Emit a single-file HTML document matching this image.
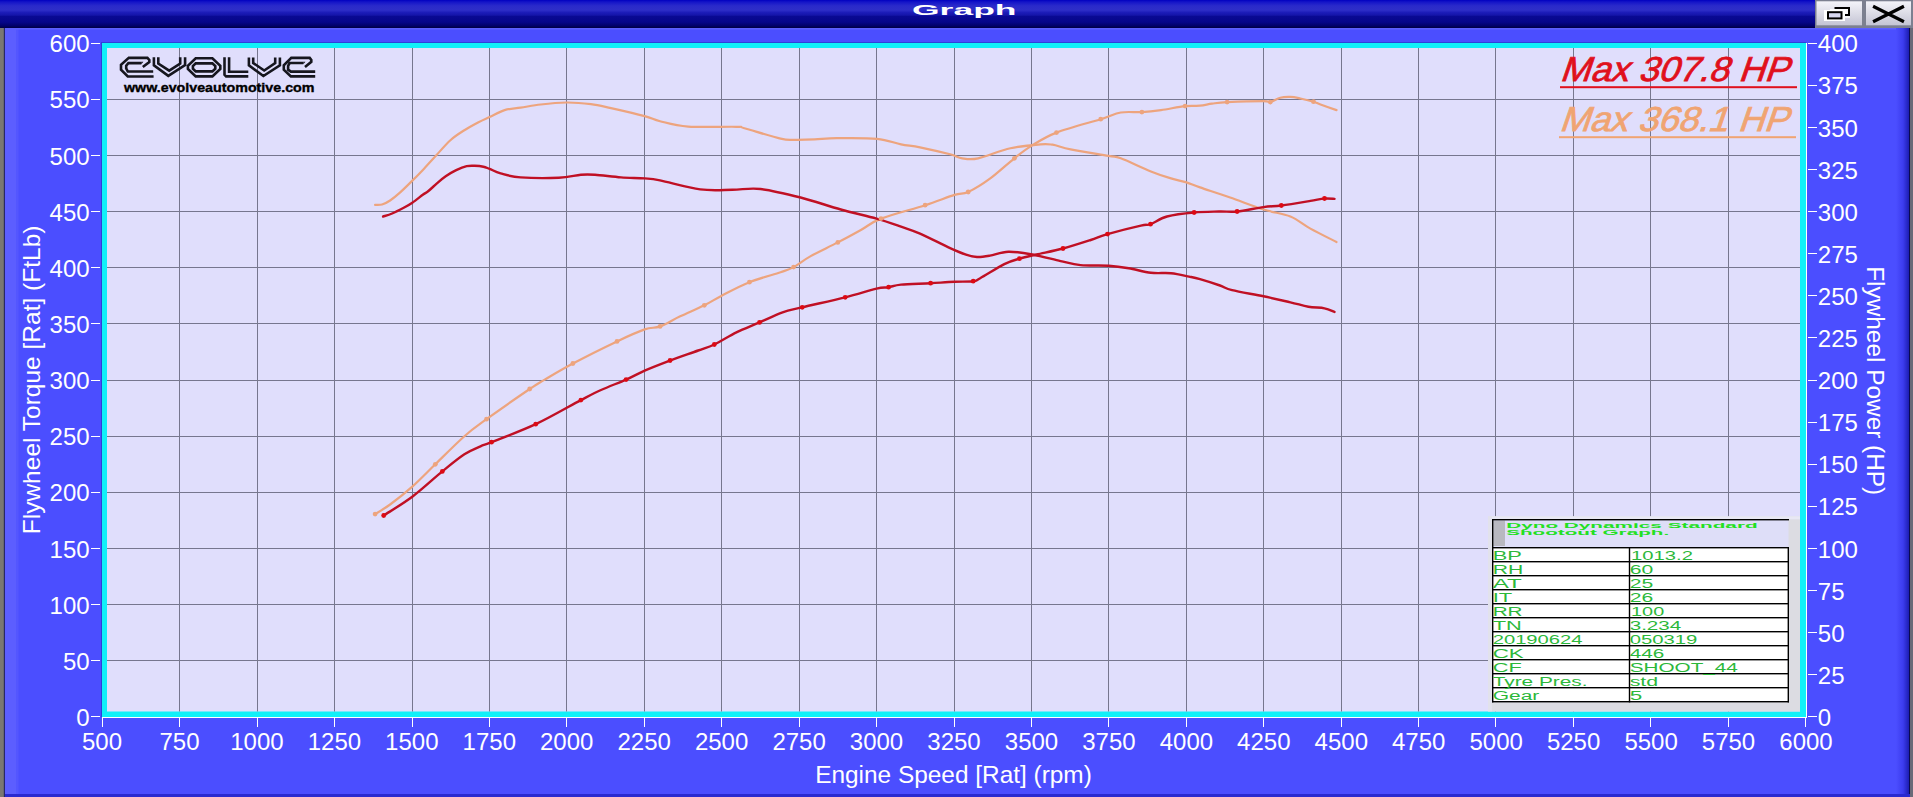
<!DOCTYPE html><html><head><meta charset="utf-8"><title>Graph</title><style>
html,body{margin:0;padding:0;width:1913px;height:797px;overflow:hidden;background:#4b4eff}
svg{display:block;font-family:"Liberation Sans",sans-serif}
</style></head><body>
<svg width="1913" height="797" viewBox="0 0 1913 797">
<defs>
<linearGradient id="tb" x1="0" y1="0" x2="0" y2="1"><stop offset="0" stop-color="#0000c0"/><stop offset="0.07" stop-color="#1414c8"/><stop offset="0.21" stop-color="#2a2aca"/><stop offset="0.36" stop-color="#2e2ec8"/><stop offset="0.45" stop-color="#1c1cb8"/><stop offset="0.55" stop-color="#1414a8"/><stop offset="0.565" stop-color="#0a0a94"/><stop offset="0.79" stop-color="#06068a"/><stop offset="0.93" stop-color="#000068"/><stop offset="1" stop-color="#000040"/></linearGradient>
<linearGradient id="btn" x1="0" y1="0" x2="0" y2="1"><stop offset="0" stop-color="#f4f4fa"/><stop offset="0.5" stop-color="#dcdce6"/><stop offset="1" stop-color="#c4c4d4"/></linearGradient>
<linearGradient id="rg" x1="0" y1="0" x2="1" y2="0"><stop offset="0" stop-color="#4b4eff"/><stop offset="0.5" stop-color="#3c3cee"/><stop offset="1" stop-color="#1818a8"/></linearGradient>
</defs>
<rect x="0" y="0" width="1913" height="797" fill="#4b4eff"/>
<rect x="0" y="28" width="4" height="769" fill="#7a7872"/>
<rect x="3.8" y="28" width="1.5" height="769" fill="#282866"/>
<rect x="5" y="28" width="11.5" height="769" fill="#5c5eff"/><rect x="16.5" y="28" width="2" height="769" fill="#5456ff"/>
<rect x="1896" y="28" width="14" height="769" fill="url(#rg)"/>
<rect x="1909" y="28" width="1.2" height="769" fill="#0a0a50"/>
<rect x="1910" y="28" width="3" height="769" fill="#6a6a78"/>
<rect x="5" y="794" width="1905" height="3" fill="#2a2ad0"/>
<rect x="0" y="0" width="1913" height="28" fill="url(#tb)"/>
<rect x="5" y="28" width="1891" height="1.5" fill="#5e60ff"/>
<text x="912" y="15" font-size="14" font-weight="bold" fill="#fff" textLength="104.5" lengthAdjust="spacingAndGlyphs">Graph</text>
<rect x="1815" y="0" width="98" height="28" fill="#7c8090"/>
<rect x="1816.5" y="1.3" width="45.5" height="24" fill="url(#btn)"/>
<rect x="1866" y="1.3" width="45" height="24" fill="url(#btn)"/>
<rect x="1830" y="9" width="20" height="9" fill="#ffffff" opacity="0.8"/>
<rect x="1834.5" y="7" width="15.5" height="2" fill="#000"/>
<rect x="1848" y="7" width="2" height="9" fill="#000"/>
<rect x="1845" y="14" width="5" height="2" fill="#000"/>
<rect x="1824" y="10" width="21" height="11" fill="#fff"/>
<rect x="1828" y="12.2" width="13.5" height="6.2" fill="#d8d8f0" stroke="#000" stroke-width="2"/>
<path d="M1874.5,7 L1902.5,21 M1902.5,7 L1874.5,21" stroke="#000" stroke-width="3.2" stroke-linecap="square"/>
<rect x="102" y="43" width="1704" height="674" fill="#10f0f8"/>
<rect x="107" y="48" width="1693" height="663.5" fill="#e0defc"/>
<path d="M179.5,48V711.5 M257.5,48V711.5 M334.5,48V711.5 M412.5,48V711.5 M489.5,48V711.5 M566.5,48V711.5 M644.5,48V711.5 M721.5,48V711.5 M799.5,48V711.5 M876.5,48V711.5 M954.5,48V711.5 M1031.5,48V711.5 M1108.5,48V711.5 M1186.5,48V711.5 M1263.5,48V711.5 M1341.5,48V711.5 M1418.5,48V711.5 M1495.5,48V711.5 M1573.5,48V711.5 M1650.5,48V711.5 M1728.5,48V711.5 M107,660.5H1800 M107,604.5H1800 M107,548.5H1800 M107,492.5H1800 M107,436.5H1800 M107,380.5H1800 M107,323.5H1800 M107,267.5H1800 M107,211.5H1800 M107,155.5H1800 M107,99.5H1800" stroke="#76768e" stroke-width="1" fill="none"/>
<rect x="101" y="42" width="1705" height="1" fill="#3040d8"/>
<rect x="101" y="42" width="1" height="675" fill="#3040d8"/>
<rect x="102" y="717" width="1705" height="1" fill="#fff"/>
<rect x="1806" y="43" width="1" height="675" fill="#fff"/>
<path d="M91,716.5H100 M91,660.5H100 M91,604.5H100 M91,548.5H100 M91,492.5H100 M91,436.5H100 M91,380.5H100 M91,323.5H100 M91,267.5H100 M91,211.5H100 M91,155.5H100 M91,99.5H100 M91,43.5H100 M102.5,718V727 M179.5,718V727 M257.5,718V727 M334.5,718V727 M412.5,718V727 M489.5,718V727 M566.5,718V727 M644.5,718V727 M721.5,718V727 M799.5,718V727 M876.5,718V727 M954.5,718V727 M1031.5,718V727 M1108.5,718V727 M1186.5,718V727 M1263.5,718V727 M1341.5,718V727 M1418.5,718V727 M1495.5,718V727 M1573.5,718V727 M1650.5,718V727 M1728.5,718V727 M1805.5,718V727 M1808,716.5H1817 M1808,674.5H1817 M1808,632.5H1817 M1808,590.5H1817 M1808,548.5H1817 M1808,506.5H1817 M1808,464.5H1817 M1808,422.5H1817 M1808,380.5H1817 M1808,337.5H1817 M1808,295.5H1817 M1808,253.5H1817 M1808,211.5H1817 M1808,169.5H1817 M1808,127.5H1817 M1808,85.5H1817 M1808,43.5H1817" stroke="#fff" stroke-width="1" fill="none"/>
<g font-size="24" fill="#fff"><text x="89.6" y="725.9" text-anchor="end">0</text><text x="89.6" y="669.8" text-anchor="end">50</text><text x="89.6" y="613.6" text-anchor="end">100</text><text x="89.6" y="557.5" text-anchor="end">150</text><text x="89.6" y="501.4" text-anchor="end">200</text><text x="89.6" y="445.2" text-anchor="end">250</text><text x="89.6" y="389.1" text-anchor="end">300</text><text x="89.6" y="333.0" text-anchor="end">350</text><text x="89.6" y="276.8" text-anchor="end">400</text><text x="89.6" y="220.7" text-anchor="end">450</text><text x="89.6" y="164.6" text-anchor="end">500</text><text x="89.6" y="108.4" text-anchor="end">550</text><text x="89.6" y="52.3" text-anchor="end">600</text><text x="102.0" y="750.1" text-anchor="middle">500</text><text x="179.5" y="750.1" text-anchor="middle">750</text><text x="256.9" y="750.1" text-anchor="middle">1000</text><text x="334.4" y="750.1" text-anchor="middle">1250</text><text x="411.8" y="750.1" text-anchor="middle">1500</text><text x="489.3" y="750.1" text-anchor="middle">1750</text><text x="566.7" y="750.1" text-anchor="middle">2000</text><text x="644.2" y="750.1" text-anchor="middle">2250</text><text x="721.6" y="750.1" text-anchor="middle">2500</text><text x="799.1" y="750.1" text-anchor="middle">2750</text><text x="876.5" y="750.1" text-anchor="middle">3000</text><text x="954.0" y="750.1" text-anchor="middle">3250</text><text x="1031.5" y="750.1" text-anchor="middle">3500</text><text x="1108.9" y="750.1" text-anchor="middle">3750</text><text x="1186.4" y="750.1" text-anchor="middle">4000</text><text x="1263.8" y="750.1" text-anchor="middle">4250</text><text x="1341.3" y="750.1" text-anchor="middle">4500</text><text x="1418.7" y="750.1" text-anchor="middle">4750</text><text x="1496.2" y="750.1" text-anchor="middle">5000</text><text x="1573.6" y="750.1" text-anchor="middle">5250</text><text x="1651.1" y="750.1" text-anchor="middle">5500</text><text x="1728.5" y="750.1" text-anchor="middle">5750</text><text x="1806.0" y="750.1" text-anchor="middle">6000</text><text x="1817.8" y="725.9">0</text><text x="1817.8" y="683.8">25</text><text x="1817.8" y="641.7">50</text><text x="1817.8" y="599.6">75</text><text x="1817.8" y="557.5">100</text><text x="1817.8" y="515.4">125</text><text x="1817.8" y="473.3">150</text><text x="1817.8" y="431.2">175</text><text x="1817.8" y="389.1">200</text><text x="1817.8" y="347.0">225</text><text x="1817.8" y="304.9">250</text><text x="1817.8" y="262.8">275</text><text x="1817.8" y="220.7">300</text><text x="1817.8" y="178.6">325</text><text x="1817.8" y="136.5">350</text><text x="1817.8" y="94.4">375</text><text x="1817.8" y="52.3">400</text></g>
<text x="953.5" y="783.2" font-size="24.4" fill="#fff" text-anchor="middle">Engine Speed [Rat] (rpm)</text>
<text transform="translate(40.1,379.9) rotate(-90)" font-size="24.5" fill="#fff" text-anchor="middle">Flywheel Torque [Rat] (FtLb)</text>
<text transform="translate(1867,380.7) rotate(90)" font-size="24.4" fill="#fff" text-anchor="middle">Flywheel Power (HP)</text>
<g fill="none" stroke-width="2.2" stroke-linejoin="round" stroke-linecap="round">
<path d="M375.1,204.9 C376.3,204.8 379.6,205.2 382.1,204.5 C384.6,203.8 387.1,202.5 390.1,200.5 C393.1,198.5 396.4,195.8 400.2,192.4 C403.9,189.1 408.6,184.4 412.6,180.4 C416.6,176.4 420.4,172.6 424.3,168.4 C428.2,164.2 432.0,160.0 436.3,155.3 C440.6,150.6 445.7,144.4 450.4,140.2 C455.1,136.0 459.7,133.2 464.4,130.2 C469.1,127.2 474.3,124.4 478.5,122.2 C482.7,120.0 485.1,119.1 489.5,117.1 C493.9,115.1 499.4,111.7 504.6,110.1 C509.8,108.5 514.6,108.6 520.6,107.7 C526.6,106.8 533.1,105.4 540.7,104.5 C548.3,103.6 558.0,102.6 566.4,102.5 C574.8,102.4 583.5,103.2 590.9,104.1 C598.3,105.0 602.0,106.1 611.0,108.1 C620.0,110.1 636.5,113.9 644.7,116.1 C652.9,118.3 652.9,119.5 660.1,121.2 C667.4,123.0 675.5,125.7 688.2,126.6 C700.9,127.5 727.0,126.5 736.4,126.8 C745.8,127.1 737.0,126.2 744.4,128.2 C751.8,130.2 772.2,136.7 780.6,138.6 C789.0,140.5 788.9,139.7 794.6,139.8 C800.3,139.9 807.7,139.7 814.7,139.4 C821.7,139.1 826.4,138.3 836.8,138.2 C847.2,138.1 866.3,137.8 877.0,138.8 C887.7,139.8 893.8,142.9 901.0,144.3 C908.2,145.7 911.8,145.6 920.0,147.3 C928.2,149.0 943.1,152.5 950.1,154.3 C957.1,156.1 957.5,157.6 962.2,158.3 C966.9,159.0 970.2,160.0 978.2,158.3 C986.2,156.6 1000.0,150.6 1010.4,148.3 C1020.8,146.0 1033.5,144.9 1040.5,144.3 C1047.5,143.7 1047.5,143.9 1052.5,144.7 C1057.5,145.5 1061.3,147.4 1070.6,149.3 C1079.9,151.2 1100.0,154.4 1108.4,155.9 C1116.8,157.4 1113.7,155.7 1120.8,158.3 C1127.9,160.9 1142.5,168.1 1150.9,171.4 C1159.3,174.8 1165.1,176.6 1171.0,178.4 C1176.9,180.2 1181.7,180.9 1186.5,182.4 C1191.3,183.9 1192.7,184.9 1200.0,187.4 C1207.3,189.9 1219.5,193.8 1230.1,197.5 C1240.7,201.2 1253.5,206.3 1263.5,209.5 C1273.5,212.7 1282.6,213.3 1290.4,216.5 C1298.2,219.7 1302.7,224.3 1310.4,228.6 C1318.1,232.8 1332.2,239.8 1336.5,242.0" stroke="#eda47e"/>
<path d="M375.1,514.1 C377.6,512.5 383.9,509.1 390.1,504.5 C396.4,499.9 405.1,493.1 412.6,486.4 C420.1,479.7 426.7,472.7 435.3,464.3 C443.9,455.9 455.9,443.7 464.4,436.2 C472.9,428.7 475.6,427.1 486.5,419.2 C497.4,411.3 520.0,395.6 529.7,389.0 C539.4,382.4 537.5,383.9 544.7,379.6 C551.9,375.4 560.9,369.9 572.9,363.5 C584.9,357.1 605.0,347.1 617.0,341.4 C629.0,335.7 637.5,331.9 644.7,329.4 C651.9,326.9 654.2,328.6 660.1,326.4 C666.0,324.2 672.8,319.8 680.2,316.3 C687.6,312.8 697.4,308.7 704.3,305.3 C711.1,301.9 713.8,299.8 721.3,295.9 C728.8,292.0 739.5,286.1 749.4,282.2 C759.3,278.2 773.2,274.7 780.6,272.2 C788.0,269.7 788.6,269.8 793.6,267.1 C798.6,264.4 803.3,260.2 810.7,256.1 C818.1,252.0 829.4,246.8 837.8,242.4 C846.2,238.1 853.7,234.0 860.9,230.0 C868.1,226.0 870.3,222.7 881.0,218.6 C891.7,214.5 912.9,209.1 925.1,205.2 C937.4,201.2 947.3,197.1 954.5,194.9 C961.7,192.7 962.2,194.8 968.2,192.0 C974.2,189.2 982.6,184.0 990.3,178.4 C998.0,172.8 1007.5,163.7 1014.4,158.3 C1021.2,152.9 1024.4,150.2 1031.4,145.9 C1038.4,141.6 1045.0,137.0 1056.5,132.6 C1068.0,128.2 1090.0,122.5 1100.7,119.2 C1111.4,115.9 1113.9,113.7 1120.8,112.5 C1127.7,111.3 1135.2,112.5 1141.9,112.1 C1148.6,111.7 1153.8,111.1 1161.0,110.1 C1168.2,109.1 1178.6,106.8 1185.1,106.1 C1191.6,105.4 1195.5,106.1 1200.0,105.7 C1204.5,105.3 1207.5,104.3 1212.0,103.7 C1216.5,103.1 1218.5,102.5 1227.1,102.1 C1235.7,101.7 1256.3,101.1 1263.5,101.1 C1270.7,101.1 1267.5,102.7 1270.3,102.1 C1273.1,101.5 1276.9,98.6 1280.3,97.7 C1283.7,96.8 1287.1,96.8 1290.4,96.9 C1293.8,97.0 1296.6,97.7 1300.4,98.5 C1304.2,99.3 1310.2,100.7 1313.5,101.7 C1316.8,102.7 1316.7,103.1 1320.5,104.5 C1324.3,105.9 1333.8,109.2 1336.5,110.1" stroke="#eda47e"/>
<path d="M383.1,216.5 C384.6,216.0 388.6,215.0 392.1,213.5 C395.6,212.0 400.8,209.3 404.2,207.5 C407.6,205.7 409.2,204.8 412.3,202.7 C415.4,200.6 420.2,196.7 422.8,194.8 C425.4,192.9 425.8,193.2 428.1,191.3 C430.5,189.4 434.0,185.9 436.9,183.4 C439.8,180.9 442.5,178.5 445.7,176.3 C448.9,174.1 452.7,171.9 456.2,170.2 C459.7,168.5 463.6,166.9 466.7,166.2 C469.8,165.5 471.8,165.7 474.6,165.8 C477.4,165.9 480.9,166.2 483.4,166.7 C485.9,167.2 486.7,167.8 489.6,168.9 C492.5,170.0 495.4,172.0 500.6,173.4 C505.8,174.8 510.9,176.7 520.6,177.4 C530.3,178.1 548.8,178.2 558.8,177.8 C568.8,177.4 574.9,175.3 580.9,174.8 C586.9,174.3 588.3,174.4 595.0,174.8 C601.7,175.2 612.7,176.8 621.0,177.4 C629.3,178.0 638.2,177.9 644.7,178.4 C651.2,178.9 650.8,178.6 660.0,180.4 C669.2,182.2 688.1,187.8 700.2,189.4 C712.3,191.0 722.4,189.9 732.4,189.8 C742.4,189.7 749.1,187.7 760.5,189.0 C771.9,190.3 787.2,194.1 800.6,197.5 C814.0,200.9 828.1,206.0 840.8,209.5 C853.4,213.0 866.5,215.8 876.5,218.6 C886.5,221.4 893.8,224.1 901.0,226.6 C908.2,229.1 911.8,230.0 920.0,233.6 C928.2,237.2 942.4,244.6 950.1,248.1 C957.8,251.6 961.5,253.1 966.0,254.6 C970.5,256.1 973.0,256.8 977.0,257.0 C981.0,257.2 984.8,256.5 990.0,255.6 C995.2,254.7 1001.3,251.9 1008.4,251.7 C1015.5,251.5 1023.7,252.9 1032.4,254.5 C1041.1,256.1 1052.6,259.3 1060.6,261.1 C1068.6,262.9 1072.6,264.3 1080.6,265.1 C1088.6,265.9 1100.8,265.2 1108.8,265.7 C1116.8,266.2 1121.8,267.0 1128.8,268.2 C1135.8,269.4 1143.9,272.0 1150.9,272.8 C1157.9,273.6 1164.6,272.6 1171.0,273.2 C1177.4,273.8 1184.3,275.6 1189.1,276.6 C1193.9,277.6 1194.8,277.7 1200.0,279.2 C1205.2,280.7 1214.7,283.7 1220.0,285.5 C1225.3,287.3 1224.8,288.4 1232.1,290.2 C1239.3,292.0 1253.8,294.3 1263.5,296.3 C1273.2,298.3 1282.9,300.6 1290.4,302.3 C1297.9,304.0 1302.7,305.7 1308.4,306.7 C1314.1,307.7 1320.2,307.4 1324.5,308.3 C1328.8,309.2 1332.8,311.3 1334.5,311.9" stroke="#c01024" stroke-width="2.4"/>
<path d="M383.7,515.5 C388.5,512.3 402.8,503.9 412.6,496.5 C422.4,489.1 433.7,478.4 442.3,471.4 C450.9,464.4 458.0,458.5 464.4,454.3 C470.8,450.1 476.0,448.3 480.5,446.3 C485.0,444.3 482.3,445.9 491.5,442.2 C500.7,438.5 520.8,431.2 535.7,424.2 C550.6,417.2 570.0,405.8 580.9,400.1 C591.8,394.4 593.5,393.4 601.0,390.0 C608.5,386.6 618.8,382.8 626.1,379.6 C633.4,376.4 637.4,373.8 644.7,370.6 C652.0,367.4 661.2,363.9 670.1,360.5 C679.0,357.1 690.8,353.2 698.2,350.5 C705.6,347.8 707.9,347.5 714.3,344.5 C720.7,341.5 728.9,336.1 736.4,332.4 C743.9,328.7 751.8,325.8 759.5,322.4 C767.2,319.0 775.5,314.8 782.6,312.3 C789.7,309.8 791.8,309.8 802.2,307.3 C812.6,304.8 832.8,300.4 845.2,297.3 C857.6,294.2 869.3,290.3 876.5,288.6 C883.7,286.9 884.5,287.9 888.6,287.2 C892.7,286.5 894.0,285.3 901.0,284.6 C908.0,283.9 921.7,283.7 930.6,283.2 C939.5,282.7 947.4,282.1 954.5,281.8 C961.6,281.5 968.9,281.8 973.2,281.2 C977.5,280.6 975.0,281.0 980.2,278.2 C985.4,275.4 997.8,267.4 1004.3,264.1 C1010.8,260.9 1014.0,260.3 1019.4,258.7 C1024.8,257.1 1029.2,256.2 1036.5,254.5 C1043.8,252.8 1054.0,250.9 1063.0,248.5 C1072.0,246.1 1083.3,242.4 1090.7,240.0 C1098.1,237.6 1099.1,236.5 1107.5,234.1 C1115.9,231.7 1133.7,227.2 1140.9,225.6 C1148.1,223.9 1146.2,225.7 1150.5,224.2 C1154.8,222.7 1159.7,218.4 1167.0,216.5 C1174.3,214.6 1185.4,213.3 1194.1,212.5 C1202.8,211.7 1211.9,211.7 1219.1,211.5 C1226.3,211.3 1229.7,212.2 1237.1,211.5 C1244.5,210.8 1256.1,208.1 1263.5,207.1 C1270.9,206.1 1273.5,206.5 1281.3,205.5 C1289.1,204.5 1303.2,202.1 1310.4,200.9 C1317.6,199.7 1320.5,198.8 1324.5,198.5 C1328.5,198.2 1332.8,198.8 1334.5,198.9" stroke="#c01024" stroke-width="2.4"/>
</g>
<g fill="#eda47e"><circle cx="375.1" cy="514.1" r="2.4"/><circle cx="435.3" cy="464.3" r="2.4"/><circle cx="486.5" cy="419.2" r="2.4"/><circle cx="529.7" cy="389.0" r="2.4"/><circle cx="572.9" cy="363.5" r="2.4"/><circle cx="617.0" cy="341.4" r="2.4"/><circle cx="660.1" cy="326.4" r="2.4"/><circle cx="704.3" cy="305.3" r="2.4"/><circle cx="749.4" cy="282.2" r="2.4"/><circle cx="793.6" cy="267.1" r="2.4"/><circle cx="837.8" cy="242.4" r="2.4"/><circle cx="881.0" cy="218.6" r="2.4"/><circle cx="925.1" cy="205.2" r="2.4"/><circle cx="968.2" cy="192.0" r="2.4"/><circle cx="1014.4" cy="158.3" r="2.4"/><circle cx="1056.5" cy="132.6" r="2.4"/><circle cx="1100.7" cy="119.2" r="2.4"/><circle cx="1141.9" cy="112.1" r="2.4"/><circle cx="1185.1" cy="106.1" r="2.4"/><circle cx="1227.1" cy="102.1" r="2.4"/><circle cx="1270.3" cy="102.1" r="2.4"/><circle cx="1313.5" cy="101.7" r="2.4"/></g>
<g fill="#dc0a14"><circle cx="383.7" cy="515.5" r="2.4"/><circle cx="442.3" cy="471.4" r="2.4"/><circle cx="491.5" cy="442.2" r="2.4"/><circle cx="535.7" cy="424.2" r="2.4"/><circle cx="580.9" cy="400.1" r="2.4"/><circle cx="626.1" cy="379.6" r="2.4"/><circle cx="670.1" cy="360.5" r="2.4"/><circle cx="714.3" cy="344.5" r="2.4"/><circle cx="759.5" cy="322.4" r="2.4"/><circle cx="802.2" cy="307.3" r="2.4"/><circle cx="845.2" cy="297.3" r="2.4"/><circle cx="888.6" cy="287.2" r="2.4"/><circle cx="930.6" cy="283.2" r="2.4"/><circle cx="973.2" cy="281.2" r="2.4"/><circle cx="1019.4" cy="258.7" r="2.4"/><circle cx="1063.0" cy="248.5" r="2.4"/><circle cx="1107.5" cy="234.1" r="2.4"/><circle cx="1150.5" cy="224.2" r="2.4"/><circle cx="1194.1" cy="212.5" r="2.4"/><circle cx="1237.1" cy="211.5" r="2.4"/><circle cx="1281.3" cy="205.5" r="2.4"/><circle cx="1324.5" cy="198.5" r="2.4"/></g>
<text transform="translate(1559.6,81.2) skewX(-19)" x="0" y="0" font-size="34.6" fill="#e0101c" stroke="#e0101c" stroke-width="0.8" textLength="228.5" lengthAdjust="spacingAndGlyphs">Max 307.8 HP</text>
<rect x="1560" y="86.2" width="237" height="2" fill="#e0101c"/>
<text transform="translate(1559,131.3) skewX(-19)" x="0" y="0" font-size="34.6" fill="#f0a472" stroke="#f0a472" stroke-width="0.8" textLength="228.5" lengthAdjust="spacingAndGlyphs">Max 368.1 HP</text>
<rect x="1559" y="136.2" width="237" height="2" fill="#f0a472"/>
<path d="M153.6,76.5 H127.8 L121,69.7 V64.8 L128.8,57.9 H147.4 L149.3,60 V62 L142.8,67 M153.2,71.5 H127.8 L126.2,68.4 V65.7 L128.4,63.1 H141.2 M153.9,57.3 V65.4 L168.3,75.9 L185.1,65.1 V57.3 M158.3,57.3 V63.5 L169.2,70.6 L180.2,63.5 V57.3 M195.7,58.3 H212.4 L220.3,65.7 V68.9 L212.4,76.4 H195.7 L187.9,68.9 V65.7 Z M195.7,63.4 H212.4 L215.3,66.1 V68.6 L212.4,71.4 H195.7 L192.9,68.6 V66.1 Z M224.5,57.2 V74.8 L226.1,76.4 H248.3 M229.1,57.2 V71.8 H248.3 M248.9,57.5 V65.4 L263.4,76 L279.9,65.4 V57.5 M253.2,57.5 V63 L264.2,70.5 L275.2,63 V57.5 M315.2,76.4 H290.9 L283.8,69.7 V65.4 L291.3,57.9 H309.7 L311.3,59.9 V61.8 L305,66.9 M315.2,71.6 H290.9 L288.1,69.7 V65.8 L289.7,63 H303.3" fill="none" stroke="#16161e" stroke-width="2.6" stroke-linejoin="miter"/>
<path d="M141.2,61.8 H143.4 L141.2,64.4 Z M303.3,61.7 H305.5 L303.3,64.3 Z" fill="#16161e"/>
<text x="124" y="91.6" font-size="12.5" font-weight="bold" fill="#000" stroke="#000" stroke-width="0.35" textLength="190.5" lengthAdjust="spacingAndGlyphs">www.evolveautomotive.com</text>
<rect x="1488" y="516.3" width="312" height="195.2" fill="#dcdce2"/>
<rect x="1488" y="516.3" width="312" height="3" fill="#e8e8f4"/><rect x="1488" y="516.3" width="4" height="195" fill="#e2e2ec"/>
<rect x="1492.5" y="519.5" width="296" height="28" fill="#dedef8"/>
<rect x="1493.2" y="520.5" width="11.8" height="25.5" fill="#b8b8c0"/>
<rect x="1492.5" y="547.4" width="296" height="154" fill="#fff"/>
<rect x="1492" y="519" width="297" height="1.4" fill="#000"/><rect x="1492" y="547" width="297" height="1.4" fill="#000"/><rect x="1492" y="561" width="297" height="1.4" fill="#000"/><rect x="1492" y="575" width="297" height="1.4" fill="#000"/><rect x="1492" y="589" width="297" height="1.4" fill="#000"/><rect x="1492" y="603" width="297" height="1.4" fill="#000"/><rect x="1492" y="617" width="297" height="1.4" fill="#000"/><rect x="1492" y="631" width="297" height="1.4" fill="#000"/><rect x="1492" y="645" width="297" height="1.4" fill="#000"/><rect x="1492" y="659" width="297" height="1.4" fill="#000"/><rect x="1492" y="673" width="297" height="1.4" fill="#000"/><rect x="1492" y="687" width="297" height="1.4" fill="#000"/><rect x="1492" y="701" width="297" height="1.4" fill="#000"/><rect x="1492" y="519" width="1.4" height="183.4" fill="#000"/><rect x="1787.6" y="547" width="1.4" height="155.4" fill="#000"/><rect x="1628.8" y="547" width="1.4" height="155.4" fill="#000"/>
<text x="1506.2" y="528.4" font-size="7.5" font-weight="bold" fill="#22e022" textLength="251.5" lengthAdjust="spacingAndGlyphs">Dyno Dynamics Standard</text>
<text x="1506.2" y="535.2" font-size="7.5" font-weight="bold" fill="#22e022" textLength="163" lengthAdjust="spacingAndGlyphs">Shootout Graph.</text>
<g font-size="12" fill="#2cb83a"><text x="1492.7" y="559.5" textLength="29.1" lengthAdjust="spacingAndGlyphs">BP</text><text x="1631.1" y="559.5" textLength="61.9" lengthAdjust="spacingAndGlyphs">1013.2</text><text x="1492.7" y="573.5" textLength="30.5" lengthAdjust="spacingAndGlyphs">RH</text><text x="1629.7" y="573.5" textLength="23.5" lengthAdjust="spacingAndGlyphs">60</text><text x="1492.7" y="587.5" textLength="29.1" lengthAdjust="spacingAndGlyphs">AT</text><text x="1629.7" y="587.5" textLength="23.5" lengthAdjust="spacingAndGlyphs">25</text><text x="1492.7" y="601.5" textLength="19.5" lengthAdjust="spacingAndGlyphs">IT</text><text x="1629.7" y="601.5" textLength="23.5" lengthAdjust="spacingAndGlyphs">26</text><text x="1492.7" y="615.5" textLength="29.9" lengthAdjust="spacingAndGlyphs">RR</text><text x="1631.1" y="615.5" textLength="33.1" lengthAdjust="spacingAndGlyphs">100</text><text x="1492.7" y="629.5" textLength="29.1" lengthAdjust="spacingAndGlyphs">TN</text><text x="1629.7" y="629.5" textLength="51.6" lengthAdjust="spacingAndGlyphs">3.234</text><text x="1492.7" y="643.5" textLength="89.8" lengthAdjust="spacingAndGlyphs">20190624</text><text x="1629.7" y="643.5" textLength="67.7" lengthAdjust="spacingAndGlyphs">050319</text><text x="1492.7" y="657.5" textLength="31.1" lengthAdjust="spacingAndGlyphs">CK</text><text x="1629.7" y="657.5" textLength="34.5" lengthAdjust="spacingAndGlyphs">446</text><text x="1492.7" y="671.5" textLength="29.1" lengthAdjust="spacingAndGlyphs">CF</text><text x="1629.7" y="671.5" textLength="108.2" lengthAdjust="spacingAndGlyphs">SHOOT_44</text><text x="1492.7" y="685.5" textLength="94.8" lengthAdjust="spacingAndGlyphs">Tyre Pres.</text><text x="1629.7" y="685.5" textLength="28.5" lengthAdjust="spacingAndGlyphs">std</text><text x="1492.7" y="699.5" textLength="46.6" lengthAdjust="spacingAndGlyphs">Gear</text><text x="1629.7" y="699.5" textLength="12.5" lengthAdjust="spacingAndGlyphs">5</text></g>
</svg></body></html>
